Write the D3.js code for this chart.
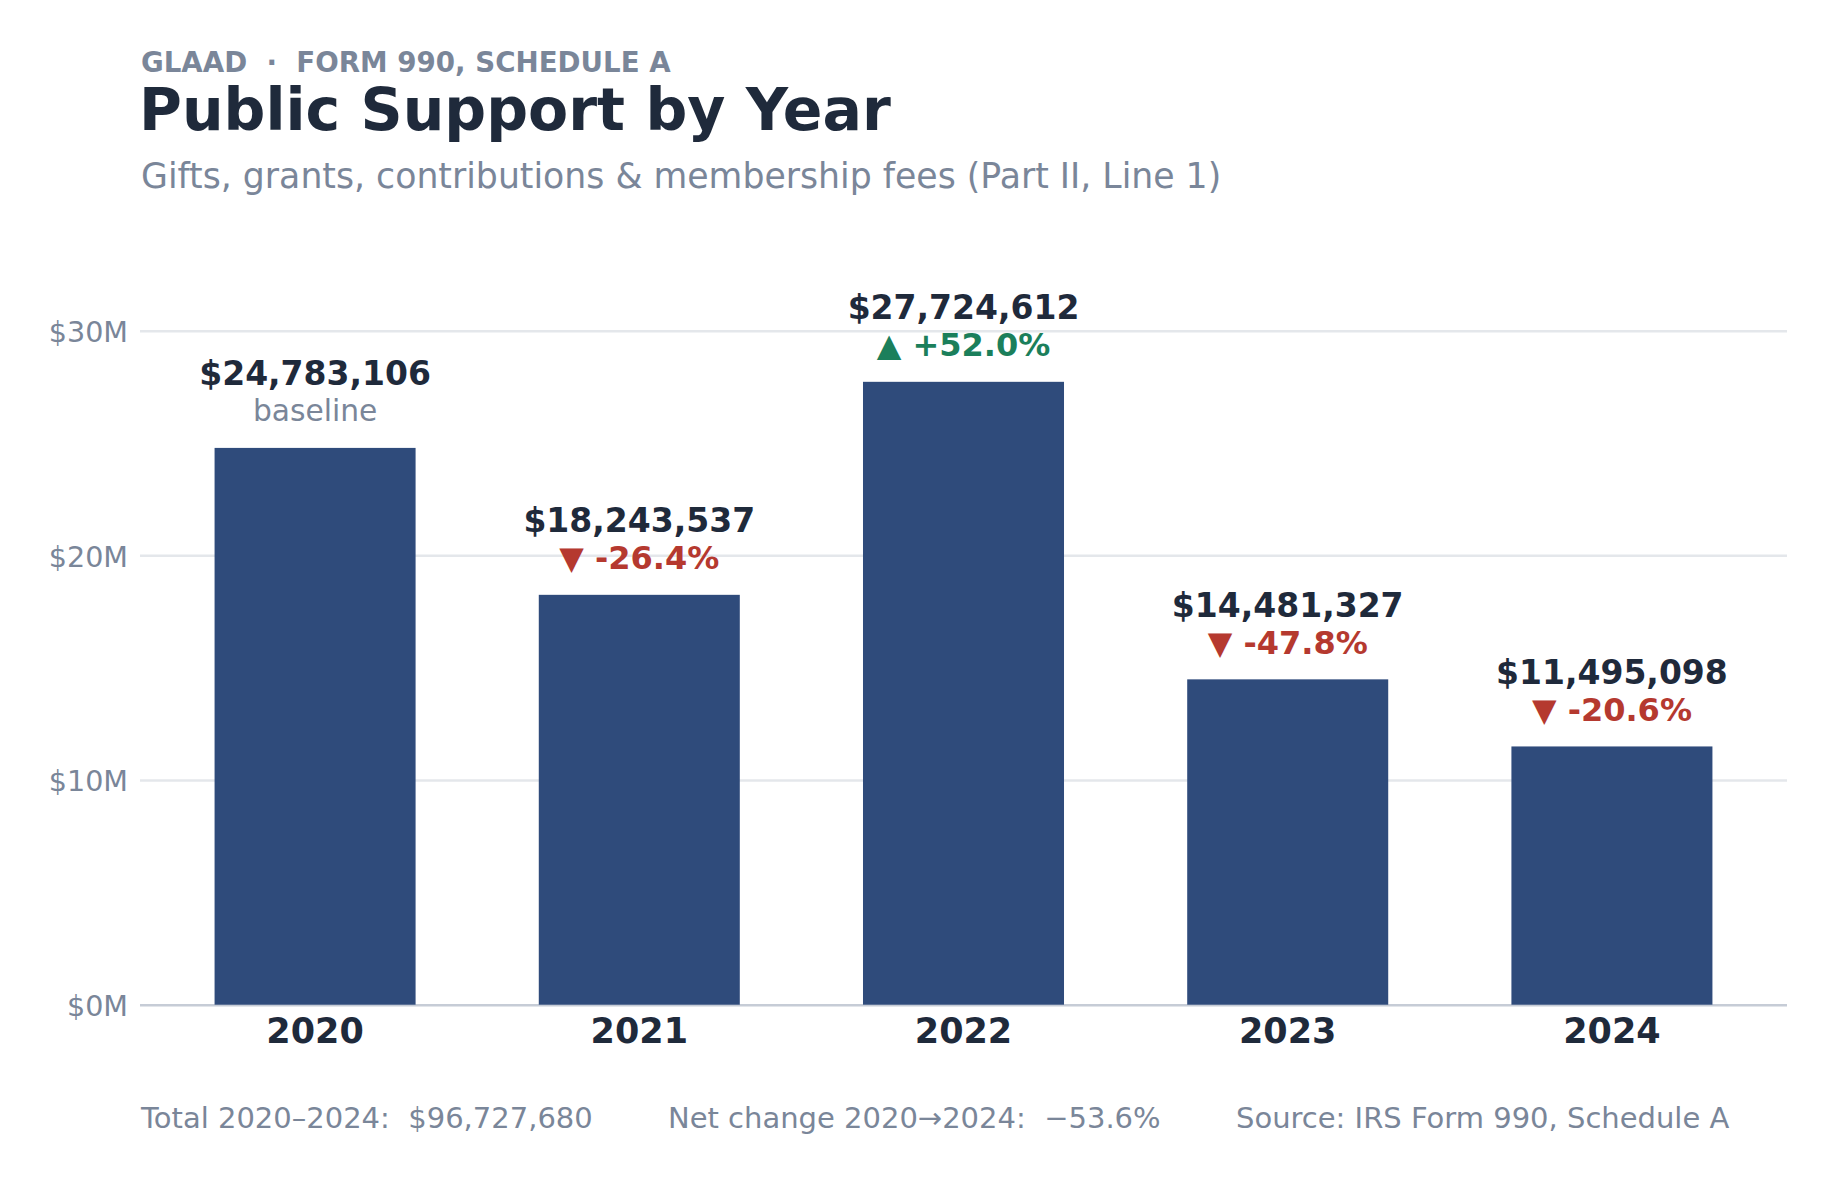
<!DOCTYPE html>
<html>
<head>
<meta charset="utf-8">
<script src="https://cdn.jsdelivr.net/npm/d3@7"></script>
<style>
  html, body { margin: 0; padding: 0; background: #ffffff; }
  svg { display: block; font-family: "DejaVu Sans", sans-serif; }
  text { white-space: pre; }
</style>
</head>
<body>
<svg id="chart" width="1837" height="1183"></svg>
<script>
// ---- Data ----
const years = ["2020", "2021", "2022", "2023", "2024"];
const support = [24783106, 18243537, 27724612, 14481327, 11495098];
const yTicks = [0, 10000000, 20000000, 30000000];
const kicker = "GLAAD  \u00B7  FORM 990, SCHEDULE A";
const title = "Public Support by Year";
const subtitle = "Gifts, grants, contributions & membership fees (Part II, Line 1)";
const sourceNote = "Source: IRS Form 990, Schedule A";

// ---- Styles ----
const C = {
  bar: "#2f4b7b",
  dark: "#1f2a3b",
  gray: "#7a8699",
  grid: "#e4e7eb",
  axis: "#c6ccd6",
  red: "#b5392f",
  green: "#1b7f5b"
};

const svg = d3.select("#chart");
svg.append("rect").attr("width", 1837).attr("height", 1183).attr("fill", "#fff");

const left = 140, right = 1787, bottom = 1004.7, top30 = 330.7;

const x = d3.scaleBand().domain(years).range([left, right]).paddingInner(0.38).paddingOuter(0.23);
const y = d3.scaleLinear().domain([0, 30000000]).range([bottom, top30]);

// ---- Header ----
svg.append("text").attr("x", 141).attr("y", 72)
  .attr("font-size", 27.7).attr("font-weight", "bold").attr("fill", C.gray).text(kicker);
svg.append("text").attr("x", 139).attr("y", 130)
  .attr("font-size", 58.5).attr("font-weight", "bold").attr("fill", C.dark).text(title);
svg.append("text").attr("x", 141).attr("y", 188)
  .attr("font-size", 34.7).attr("fill", C.gray).text(subtitle);

// ---- Y axis / grid ----
const yAxis = d3.axisLeft(y)
  .tickValues(yTicks)
  .tickSize(-(right - left))
  .tickPadding(12)
  .tickFormat(d => "$" + d3.format(".0f")(d / 1e6) + "M");

const gy = svg.append("g").attr("transform", `translate(${left},0)`).call(yAxis);
gy.select(".domain").remove();
gy.selectAll(".tick line")
  .attr("stroke", d => d === 0 ? C.axis : C.grid)
  .attr("stroke-width", 2.5);
gy.selectAll(".tick text")
  .attr("font-family", "DejaVu Sans")
  .attr("font-size", 28.6)
  .attr("fill", C.gray)
  .attr("dy", "0.38em");

// ---- Bars ----
svg.append("g").selectAll("rect")
  .data(years)
  .join("rect")
  .attr("x", d => x(d))
  .attr("width", x.bandwidth())
  .attr("y", (d, i) => y(support[i]))
  .attr("height", (d, i) => y(0) - y(support[i]))
  .attr("fill", C.bar);

// ---- X axis ----
const xAxis = d3.axisBottom(x).tickSize(0).tickPadding(0);
const gx = svg.append("g").attr("transform", `translate(0,${bottom})`).call(xAxis);
gx.select(".domain").remove();
gx.selectAll(".tick text")
  .attr("font-family", "DejaVu Sans")
  .attr("font-size", 35)
  .attr("font-weight", "bold")
  .attr("fill", C.dark)
  .attr("y", 38.8)
  .attr("dy", 0);

// ---- Value + change labels ----
const fmtMoney = d => "$" + d3.format(",")(d);
const labels = svg.append("g");
years.forEach((yr, i) => {
  const cx = x(yr) + x.bandwidth() / 2;
  const yt = y(support[i]);
  labels.append("text")
    .attr("x", cx).attr("y", yt - 62.7)
    .attr("text-anchor", "middle")
    .attr("font-size", 33).attr("font-weight", "bold").attr("fill", C.dark)
    .text(fmtMoney(support[i]));
  if (i === 0) {
    labels.append("text")
      .attr("x", cx).attr("y", yt - 26.5)
      .attr("text-anchor", "middle")
      .attr("font-size", 29.7).attr("fill", C.gray)
      .text("baseline");
  } else {
    const ch = support[i] / support[i - 1] - 1;
    const up = ch >= 0;
    const txt = (up ? "\u25B2 +" : "\u25BC -") + d3.format(".1f")(Math.abs(ch) * 100) + "%";
    labels.append("text")
      .attr("x", cx).attr("y", yt - 25.5)
      .attr("text-anchor", "middle")
      .attr("font-size", 32).attr("font-weight", "bold")
      .attr("fill", up ? C.green : C.red)
      .text(txt);
  }
});

// ---- Footer ----
const total = d3.sum(support);
const net = support[support.length - 1] / support[0] - 1;
const footer = [
  { x: 141, t: "Total " + years[0] + "\u2013" + years[years.length - 1] + ":  " + fmtMoney(total) },
  { x: 668, t: "Net change " + years[0] + "\u2192" + years[years.length - 1] + ":  " + (net < 0 ? "\u2212" : "+") + d3.format(".1f")(Math.abs(net) * 100) + "%" },
  { x: 1236, t: sourceNote }
];
svg.append("g").selectAll("text")
  .data(footer)
  .join("text")
  .attr("x", d => d.x).attr("y", 1128)
  .attr("font-size", 29).attr("fill", C.gray)
  .text(d => d.t);
</script>
</body>
</html>
